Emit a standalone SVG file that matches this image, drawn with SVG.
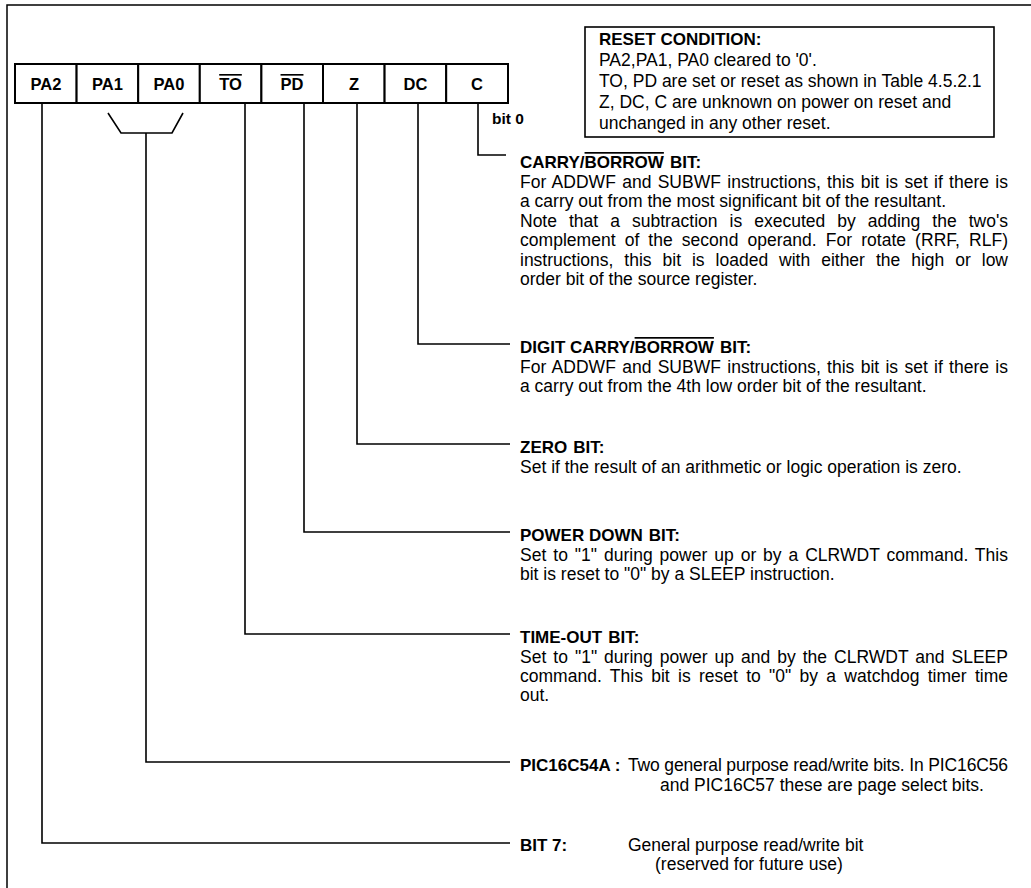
<svg xmlns="http://www.w3.org/2000/svg" width="1031" height="888" viewBox="0 0 1031 888">
<style>
.frame{fill:none;stroke:#000;stroke-width:1.5}
.cell{fill:#fff;stroke:#000;stroke-width:2}
.conn{fill:none;stroke:#000;stroke-width:1.6}
.box{fill:#fff;stroke:#000;stroke-width:1.6}
.lbl{font-family:"Liberation Sans",Arial,sans-serif;font-weight:bold;font-size:16.5px;text-anchor:middle}
.h{font-family:"Liberation Sans",Arial,sans-serif;font-weight:bold;font-size:17px}
.t{font-family:"Liberation Sans",Arial,sans-serif;font-size:17.5px}
.r{font-family:"Liberation Sans",Arial,sans-serif;font-size:17.5px}
.ov{text-decoration:overline}
</style>
<rect width="1031" height="888" fill="#fff"/>
<path class="frame" d="M7,888 V5 H1031"/>

<g id="register">
<rect class="cell" x="15" y="64" width="61.6" height="39"/>
<rect class="cell" x="76.6" y="64" width="61.6" height="39"/>
<rect class="cell" x="138.2" y="64" width="61.6" height="39"/>
<rect class="cell" x="199.8" y="64" width="61.6" height="39"/>
<rect class="cell" x="261.4" y="64" width="61.6" height="39"/>
<rect class="cell" x="323" y="64" width="61.6" height="39"/>
<rect class="cell" x="384.6" y="64" width="61.6" height="39"/>
<rect class="cell" x="446.2" y="64" width="61.8" height="39"/>
<text class="lbl" x="46" y="90">PA2</text>
<text class="lbl" x="107.5" y="90">PA1</text>
<text class="lbl" x="169" y="90">PA0</text>
<text class="lbl" x="230.5" y="90"><tspan class="ov">TO</tspan></text>
<text class="lbl" x="292" y="90"><tspan class="ov">PD</tspan></text>
<text class="lbl" x="354" y="90">Z</text>
<text class="lbl" x="415.5" y="90">DC</text>
<text class="lbl" x="477" y="90">C</text>
<text class="h" x="492" y="124" style="font-size:15.5px">bit 0</text>
</g>

<g id="reset-condition">
<rect class="box" x="585" y="27" width="409" height="110"/>
<text class="h" x="599" y="45">RESET CONDITION:</text>
<text class="r" x="599" y="66">PA2,PA1, PA0 cleared to '0'.</text>
<text class="r" x="599" y="87">TO, PD are set or reset as shown in Table 4.5.2.1</text>
<text class="r" x="599" y="108">Z, DC, C are unknown on power on reset and</text>
<text class="r" x="599" y="129">unchanged in any other reset.</text>
</g>

<g id="connectors">
<path class="conn" d="M42,103 V843 H510"/>
<path class="conn" d="M108,113 L121,133 H172 L183,113"/>
<path class="conn" d="M146,133 V762 H510"/>
<path class="conn" d="M245,103 V634 H510"/>
<path class="conn" d="M304,103 V532 H510"/>
<path class="conn" d="M357,103 V444 H510"/>
<path class="conn" d="M418,103 V344 H510"/>
<path class="conn" d="M478,103 V155 H506"/>
</g>

<g id="carry">
<text class="h" x="520" y="168">CARRY/<tspan class="ov">BORROW</tspan><tspan dx="6">BIT:</tspan></text>
<text class="t" x="520" y="188" style="word-spacing:1.4px" textLength="488" lengthAdjust="spacing">For ADDWF and SUBWF instructions, this bit is set if there is</text>
<text class="t" x="520" y="207">a carry out from the most significant bit of the resultant.</text>
<text class="t" x="520" y="227" style="word-spacing:7.2px" textLength="488" lengthAdjust="spacing">Note that a subtraction is executed by adding the two's</text>
<text class="t" x="520" y="246" style="word-spacing:4.1px" textLength="488" lengthAdjust="spacing">complement of the second operand.  For rotate (RRF, RLF)</text>
<text class="t" x="520" y="266" style="word-spacing:6.1px" textLength="488" lengthAdjust="spacing">instructions, this bit is loaded with either the high or low</text>
<text class="t" x="520" y="285">order bit of the source register.</text>
</g>

<g id="digit-carry">
<text class="h" x="520" y="353">DIGIT CARRY/<tspan class="ov">BORROW</tspan><tspan dx="6">BIT:</tspan></text>
<text class="t" x="520" y="373" style="word-spacing:1.4px" textLength="488" lengthAdjust="spacing">For ADDWF and SUBWF instructions, this bit is set if there is</text>
<text class="t" x="520" y="392">a carry out from the 4th low order bit of the resultant.</text>
</g>

<g id="zero">
<text class="h" x="520" y="453">ZERO<tspan dx="6">BIT:</tspan></text>
<text class="t" x="520" y="473">Set if the result of an arithmetic or logic operation is zero.</text>
</g>

<g id="power-down">
<text class="h" x="520" y="541">POWER DOWN<tspan dx="6">BIT:</tspan></text>
<text class="t" x="520" y="561" style="word-spacing:2px" textLength="488" lengthAdjust="spacing">Set to "1" during power up or by a CLRWDT command.  This</text>
<text class="t" x="520" y="580">bit is reset to "0" by a SLEEP instruction.</text>
</g>

<g id="time-out">
<text class="h" x="520" y="643">TIME-OUT<tspan dx="6">BIT:</tspan></text>
<text class="t" x="520" y="663" style="word-spacing:2.1px" textLength="488" lengthAdjust="spacing">Set to "1" during power up and by the CLRWDT and SLEEP</text>
<text class="t" x="520" y="682" style="word-spacing:3.4px" textLength="488" lengthAdjust="spacing">command.  This bit is reset to "0" by a watchdog timer time</text>
<text class="t" x="520" y="701">out.</text>
</g>

<g id="pic16c54a">
<text class="h" x="520" y="771">PIC16C54A :</text>
<text class="t" x="628" y="771" textLength="380" lengthAdjust="spacing">Two general purpose read/write bits.  In PIC16C56</text>
<text class="t" x="660" y="791">and PIC16C57 these are page select bits.</text>
</g>

<g id="bit7">
<text class="h" x="520" y="851">BIT 7:</text>
<text class="t" x="628" y="851">General purpose read/write bit</text>
<text class="t" x="655" y="870">(reserved for future use)</text>
</g>
</svg>
